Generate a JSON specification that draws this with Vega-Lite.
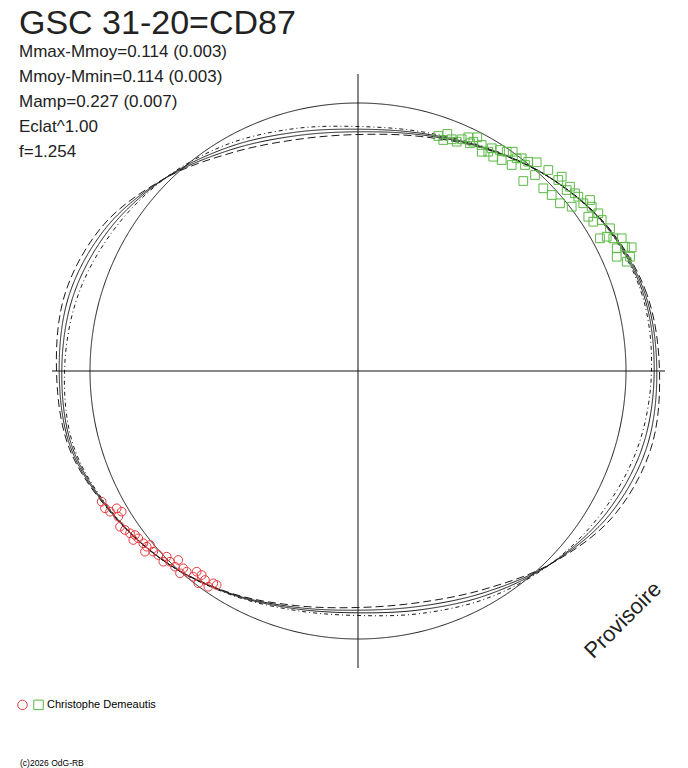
{
  "$schema": "https://vega.github.io/schema/vega-lite/v6.json",
  "description": "Polar phase diagram GSC 31-20=CD87",
  "width": 669,
  "height": 768,
  "autosize": "none",
  "padding": {"left": 19, "top": 0, "right": 0, "bottom": 0},
  "background": "white",
  "title": {
    "text": "GSC 31-20=CD87",
    "subtitle": ["Mmax-Mmoy=0.114 (0.003)", "Mmoy-Mmin=0.114 (0.003)", "Mamp=0.227 (0.007)", "Eclat^1.00", "f=1.254"],
    "anchor": "start",
    "frame": "group",
    "offset": -159.5,
    "font": "Liberation Sans",
    "fontSize": 34,
    "fontWeight": "normal",
    "color": "#222222",
    "subtitleFont": "Liberation Sans",
    "subtitleFontSize": 17,
    "subtitleColor": "#222222",
    "subtitleLineHeight": 25,
    "subtitlePadding": 3
  },
  "datasets": {
    "curves": [
      {"c": "A", "d": 0, "x": 301.5, "y": 0},
      {"c": "A", "d": 15, "x": 288.7, "y": 77.4},
      {"c": "A", "d": 30, "x": 249.8, "y": 144.3},
      {"c": "A", "d": 45, "x": 192.8, "y": 192.8},
      {"c": "A", "d": 60, "x": 128.1, "y": 221.8},
      {"c": "A", "d": 75, "x": 62.8, "y": 234.5},
      {"c": "A", "d": 90, "x": 0, "y": 236.5},
      {"c": "A", "d": 105, "x": -62.0, "y": 231.4},
      {"c": "A", "d": 120, "x": -126.1, "y": 218.3},
      {"c": "A", "d": 135, "x": -192.8, "y": 192.8},
      {"c": "A", "d": 150, "x": -254.0, "y": 146.7},
      {"c": "A", "d": 165, "x": -292.6, "y": 78.4},
      {"c": "A", "d": 180, "x": -301.5, "y": 0},
      {"c": "A", "d": 195, "x": -288.7, "y": -77.4},
      {"c": "A", "d": 210, "x": -246.6, "y": -142.4},
      {"c": "A", "d": 225, "x": -191.6, "y": -191.6},
      {"c": "A", "d": 240, "x": -128.1, "y": -221.8},
      {"c": "A", "d": 255, "x": -62.8, "y": -234.5},
      {"c": "A", "d": 270, "x": 0, "y": -236.5},
      {"c": "A", "d": 285, "x": 62.0, "y": -231.4},
      {"c": "A", "d": 300, "x": 126.1, "y": -218.3},
      {"c": "A", "d": 315, "x": 192.8, "y": -192.8},
      {"c": "A", "d": 330, "x": 254.0, "y": -146.7},
      {"c": "A", "d": 345, "x": 292.6, "y": -78.4},
      {"c": "S1", "d": 0, "x": 298.8, "y": 0},
      {"c": "S1", "d": 15, "x": 287.2, "y": 76.9},
      {"c": "S1", "d": 30, "x": 249.4, "y": 144.0},
      {"c": "S1", "d": 45, "x": 192.8, "y": 192.8},
      {"c": "S1", "d": 60, "x": 128.3, "y": 222.2},
      {"c": "S1", "d": 75, "x": 63.3, "y": 236.1},
      {"c": "S1", "d": 90, "x": 0, "y": 239.2},
      {"c": "S1", "d": 105, "x": -63.0, "y": 235.1},
      {"c": "S1", "d": 120, "x": -127.7, "y": 221.1},
      {"c": "S1", "d": 135, "x": -192.8, "y": 192.8},
      {"c": "S1", "d": 150, "x": -250.7, "y": 144.8},
      {"c": "S1", "d": 165, "x": -288.4, "y": 77.3},
      {"c": "S1", "d": 180, "x": -298.8, "y": 0},
      {"c": "S1", "d": 195, "x": -287.2, "y": -76.9},
      {"c": "S1", "d": 210, "x": -246.2, "y": -142.2},
      {"c": "S1", "d": 225, "x": -191.6, "y": -191.6},
      {"c": "S1", "d": 240, "x": -128.3, "y": -222.2},
      {"c": "S1", "d": 255, "x": -63.3, "y": -236.1},
      {"c": "S1", "d": 270, "x": 0, "y": -239.2},
      {"c": "S1", "d": 285, "x": 63.0, "y": -235.1},
      {"c": "S1", "d": 300, "x": 127.7, "y": -221.1},
      {"c": "S1", "d": 315, "x": 192.8, "y": -192.8},
      {"c": "S1", "d": 330, "x": 250.7, "y": -144.8},
      {"c": "S1", "d": 345, "x": 288.4, "y": -77.3},
      {"c": "S2", "d": 0, "x": 296.2, "y": 0},
      {"c": "S2", "d": 15, "x": 285.6, "y": 76.5},
      {"c": "S2", "d": 30, "x": 248.9, "y": 143.7},
      {"c": "S2", "d": 45, "x": 192.8, "y": 192.8},
      {"c": "S2", "d": 60, "x": 128.6, "y": 222.7},
      {"c": "S2", "d": 75, "x": 63.7, "y": 237.6},
      {"c": "S2", "d": 90, "x": 0, "y": 241.8},
      {"c": "S2", "d": 105, "x": -63.9, "y": 238.6},
      {"c": "S2", "d": 120, "x": -129.3, "y": 223.9},
      {"c": "S2", "d": 135, "x": -192.8, "y": 192.8},
      {"c": "S2", "d": 150, "x": -247.6, "y": 143.0},
      {"c": "S2", "d": 165, "x": -284.4, "y": 76.2},
      {"c": "S2", "d": 180, "x": -296.2, "y": 0},
      {"c": "S2", "d": 195, "x": -285.6, "y": -76.5},
      {"c": "S2", "d": 210, "x": -245.7, "y": -141.9},
      {"c": "S2", "d": 225, "x": -191.6, "y": -191.6},
      {"c": "S2", "d": 240, "x": -128.6, "y": -222.7},
      {"c": "S2", "d": 255, "x": -63.7, "y": -237.6},
      {"c": "S2", "d": 270, "x": 0, "y": -241.8},
      {"c": "S2", "d": 285, "x": 63.9, "y": -238.6},
      {"c": "S2", "d": 300, "x": 129.3, "y": -223.9},
      {"c": "S2", "d": 315, "x": 192.8, "y": -192.8},
      {"c": "S2", "d": 330, "x": 247.6, "y": -143.0},
      {"c": "S2", "d": 345, "x": 284.4, "y": -76.2},
      {"c": "B", "d": 0, "x": 293.5, "y": 0},
      {"c": "B", "d": 15, "x": 284.1, "y": 76.1},
      {"c": "B", "d": 30, "x": 248.5, "y": 143.5},
      {"c": "B", "d": 45, "x": 192.8, "y": 192.8},
      {"c": "B", "d": 60, "x": 128.9, "y": 223.2},
      {"c": "B", "d": 75, "x": 64.1, "y": 239.2},
      {"c": "B", "d": 90, "x": 0, "y": 244.5},
      {"c": "B", "d": 105, "x": -64.9, "y": 242.2},
      {"c": "B", "d": 120, "x": -130.9, "y": 226.6},
      {"c": "B", "d": 135, "x": -192.8, "y": 192.8},
      {"c": "B", "d": 150, "x": -244.3, "y": 141.1},
      {"c": "B", "d": 165, "x": -280.2, "y": 75.1},
      {"c": "B", "d": 180, "x": -293.5, "y": 0},
      {"c": "B", "d": 195, "x": -284.1, "y": -76.1},
      {"c": "B", "d": 210, "x": -245.3, "y": -141.6},
      {"c": "B", "d": 225, "x": -191.6, "y": -191.6},
      {"c": "B", "d": 240, "x": -128.9, "y": -223.2},
      {"c": "B", "d": 255, "x": -64.1, "y": -239.2},
      {"c": "B", "d": 270, "x": 0, "y": -244.5},
      {"c": "B", "d": 285, "x": 64.9, "y": -242.2},
      {"c": "B", "d": 300, "x": 130.9, "y": -226.6},
      {"c": "B", "d": 315, "x": 192.8, "y": -192.8},
      {"c": "B", "d": 330, "x": 244.3, "y": -141.1},
      {"c": "B", "d": 345, "x": 280.2, "y": -75.1},
      {"c": "circle", "d": 0, "x": 268, "y": 0},
      {"c": "circle", "d": 15, "x": 258.9, "y": 69.4},
      {"c": "circle", "d": 30, "x": 232.1, "y": 134},
      {"c": "circle", "d": 45, "x": 189.5, "y": 189.5},
      {"c": "circle", "d": 60, "x": 134, "y": 232.1},
      {"c": "circle", "d": 75, "x": 69.4, "y": 258.9},
      {"c": "circle", "d": 90, "x": 0, "y": 268},
      {"c": "circle", "d": 105, "x": -69.4, "y": 258.9},
      {"c": "circle", "d": 120, "x": -134, "y": 232.1},
      {"c": "circle", "d": 135, "x": -189.5, "y": 189.5},
      {"c": "circle", "d": 150, "x": -232.1, "y": 134},
      {"c": "circle", "d": 165, "x": -258.9, "y": 69.4},
      {"c": "circle", "d": 180, "x": -268, "y": 0},
      {"c": "circle", "d": 195, "x": -258.9, "y": -69.4},
      {"c": "circle", "d": 210, "x": -232.1, "y": -134},
      {"c": "circle", "d": 225, "x": -189.5, "y": -189.5},
      {"c": "circle", "d": 240, "x": -134, "y": -232.1},
      {"c": "circle", "d": 255, "x": -69.4, "y": -258.9},
      {"c": "circle", "d": 270, "x": 0, "y": -268},
      {"c": "circle", "d": 285, "x": 69.4, "y": -258.9},
      {"c": "circle", "d": 300, "x": 134, "y": -232.1},
      {"c": "circle", "d": 315, "x": 189.5, "y": -189.5},
      {"c": "circle", "d": 330, "x": 232.1, "y": -134},
      {"c": "circle", "d": 345, "x": 258.9, "y": -69.4}
    ],
    "obs": [
      {"s": "b", "x": 80.3, "y": 235.0},
      {"s": "b", "x": 85.3, "y": 231.0},
      {"s": "b", "x": 89.3, "y": 237.0},
      {"s": "b", "x": 93.7, "y": 231.7},
      {"s": "b", "x": 98.7, "y": 229.3},
      {"s": "b", "x": 103.7, "y": 231.7},
      {"s": "b", "x": 110.3, "y": 233.7},
      {"s": "b", "x": 115.3, "y": 229.3},
      {"s": "b", "x": 119.3, "y": 233.7},
      {"s": "b", "x": 112.0, "y": 227.7},
      {"s": "b", "x": 123.7, "y": 226.0},
      {"s": "b", "x": 123.7, "y": 219.3},
      {"s": "b", "x": 130.3, "y": 219.3},
      {"s": "b", "x": 133.7, "y": 222.7},
      {"s": "b", "x": 135.3, "y": 214.3},
      {"s": "b", "x": 142.0, "y": 221.0},
      {"s": "b", "x": 143.7, "y": 211.0},
      {"s": "b", "x": 148.7, "y": 219.3},
      {"s": "b", "x": 154.7, "y": 219.3},
      {"s": "b", "x": 153.7, "y": 206.0},
      {"s": "b", "x": 158.7, "y": 212.7},
      {"s": "b", "x": 163.7, "y": 212.7},
      {"s": "b", "x": 167.0, "y": 206.0},
      {"s": "b", "x": 170.3, "y": 209.3},
      {"s": "b", "x": 178.7, "y": 208.7},
      {"s": "b", "x": 177.0, "y": 196.0},
      {"s": "b", "x": 165.3, "y": 190.0},
      {"s": "b", "x": 185.3, "y": 182.7},
      {"s": "b", "x": 190.3, "y": 201.0},
      {"s": "b", "x": 193.7, "y": 176.0},
      {"s": "b", "x": 200.3, "y": 191.0},
      {"s": "b", "x": 203.7, "y": 194.3},
      {"s": "b", "x": 202.0, "y": 167.7},
      {"s": "b", "x": 208.7, "y": 181.0},
      {"s": "b", "x": 212.0, "y": 184.3},
      {"s": "b", "x": 217.0, "y": 177.7},
      {"s": "b", "x": 213.7, "y": 164.3},
      {"s": "b", "x": 220.3, "y": 174.3},
      {"s": "b", "x": 225.3, "y": 167.7},
      {"s": "b", "x": 232.0, "y": 171.0},
      {"s": "b", "x": 230.3, "y": 154.3},
      {"s": "b", "x": 233.7, "y": 164.3},
      {"s": "b", "x": 235.3, "y": 149.3},
      {"s": "b", "x": 240.3, "y": 157.7},
      {"s": "b", "x": 243.7, "y": 151.0},
      {"s": "b", "x": 252.0, "y": 142.7},
      {"s": "b", "x": 242.0, "y": 132.7},
      {"s": "b", "x": 248.7, "y": 134.3},
      {"s": "b", "x": 255.3, "y": 132.7},
      {"s": "b", "x": 263.7, "y": 132.7},
      {"s": "b", "x": 258.7, "y": 122.7},
      {"s": "b", "x": 267.0, "y": 124.3},
      {"s": "b", "x": 273.7, "y": 123.7},
      {"s": "b", "x": 258.7, "y": 114.3},
      {"s": "b", "x": 272.0, "y": 114.3},
      {"s": "b", "x": 268.7, "y": 109.3},
      {"s": "a", "x": -256.3, "y": -130.7},
      {"s": "a", "x": -253.0, "y": -137.3},
      {"s": "a", "x": -241.3, "y": -137.3},
      {"s": "a", "x": -236.3, "y": -140.7},
      {"s": "a", "x": -248.0, "y": -140.7},
      {"s": "a", "x": -239.7, "y": -145.7},
      {"s": "a", "x": -238.0, "y": -155.7},
      {"s": "a", "x": -233.0, "y": -159.0},
      {"s": "a", "x": -228.0, "y": -162.3},
      {"s": "a", "x": -223.0, "y": -164.0},
      {"s": "a", "x": -219.7, "y": -167.3},
      {"s": "a", "x": -224.7, "y": -169.0},
      {"s": "a", "x": -214.7, "y": -172.3},
      {"s": "a", "x": -211.3, "y": -175.7},
      {"s": "a", "x": -208.0, "y": -174.0},
      {"s": "a", "x": -213.0, "y": -180.7},
      {"s": "a", "x": -204.7, "y": -180.7},
      {"s": "a", "x": -199.7, "y": -184.0},
      {"s": "a", "x": -191.3, "y": -185.7},
      {"s": "a", "x": -194.7, "y": -190.7},
      {"s": "a", "x": -188.0, "y": -190.7},
      {"s": "a", "x": -179.7, "y": -189.0},
      {"s": "a", "x": -183.0, "y": -195.7},
      {"s": "a", "x": -174.7, "y": -197.3},
      {"s": "a", "x": -178.0, "y": -202.3},
      {"s": "a", "x": -171.3, "y": -200.7},
      {"s": "a", "x": -161.3, "y": -200.7},
      {"s": "a", "x": -164.7, "y": -205.7},
      {"s": "a", "x": -156.3, "y": -204.0},
      {"s": "a", "x": -159.7, "y": -212.3},
      {"s": "a", "x": -153.0, "y": -209.0},
      {"s": "a", "x": -149.7, "y": -215.7},
      {"s": "a", "x": -144.7, "y": -212.3},
      {"s": "a", "x": -141.3, "y": -214.0}
    ]
  },
  "layer": [
    {
      "data": {"values": [{"axis": "v"}]},
      "mark": {"type": "rule", "color": "#111111", "strokeWidth": 1},
      "encoding": {
        "x": {"datum": 0, "type": "quantitative", "scale": {"domain": [-339, 330], "nice": false, "zero": false}, "axis": null},
        "y": {"datum": 297, "type": "quantitative", "scale": {"domain": [-397, 371], "nice": false, "zero": false}, "axis": null},
        "y2": {"datum": -297}
      }
    },
    {
      "data": {"values": [{"axis": "h"}]},
      "mark": {"type": "rule", "color": "#111111", "strokeWidth": 1},
      "encoding": {
        "x": {"datum": -306, "type": "quantitative", "scale": {"domain": [-339, 330], "nice": false, "zero": false}, "axis": null},
        "x2": {"datum": 307},
        "y": {"datum": 0, "type": "quantitative", "scale": {"domain": [-397, 371], "nice": false, "zero": false}, "axis": null}
      }
    },
    {
      "data": {"name": "curves"},
      "mark": {"type": "line", "interpolate": "cardinal-closed", "color": "#1a1a1a", "strokeWidth": 1},
      "encoding": {
        "x": {"field": "x", "type": "quantitative", "scale": {"domain": [-339, 330], "nice": false, "zero": false}, "axis": null},
        "y": {"field": "y", "type": "quantitative", "scale": {"domain": [-397, 371], "nice": false, "zero": false}, "axis": null},
        "order": {"field": "d", "type": "quantitative"},
        "strokeDash": {
          "field": "c",
          "type": "nominal",
          "scale": {"domain": ["A", "S1", "S2", "B", "circle"], "range": [[8, 4], [1, 0], [1, 0], [4, 3, 1, 3], [1, 0]]},
          "legend": null
        }
      }
    },
    {
      "data": {"name": "obs"},
      "mark": {"type": "point", "filled": false, "opacity": 1, "strokeWidth": 1, "size": 76},
      "encoding": {
        "x": {"field": "x", "type": "quantitative", "scale": {"domain": [-339, 330], "nice": false, "zero": false}, "axis": null},
        "y": {"field": "y", "type": "quantitative", "scale": {"domain": [-397, 371], "nice": false, "zero": false}, "axis": null},
        "color": {
          "field": "s",
          "type": "nominal",
          "scale": {"domain": ["a", "b"], "range": ["#e63b3e", "#5cb845"]},
          "legend": {
            "title": null,
            "orient": "none",
            "legendX": -2,
            "legendY": 699,
            "direction": "horizontal",
            "labelExpr": "datum.value == 'b' ? '\u00a0\u00a0Christophe Demeautis' : ''",
            "labelFont": "Liberation Sans",
            "labelFontSize": 11,
            "labelColor": "#000000",
            "labelOffset": 3,
            "columnPadding": 0,
            "symbolSize": 90,
            "symbolStrokeWidth": 1
          }
        },
        "shape": {
          "field": "s",
          "type": "nominal",
          "scale": {"domain": ["a", "b"], "range": ["circle", "square"]},
          "legend": {
            "title": null,
            "orient": "none",
            "legendX": -2,
            "legendY": 699,
            "direction": "horizontal",
            "labelExpr": "datum.value == 'b' ? '\u00a0\u00a0Christophe Demeautis' : ''",
            "labelFont": "Liberation Sans",
            "labelFontSize": 11,
            "labelColor": "#000000",
            "labelOffset": 3,
            "columnPadding": 0,
            "symbolSize": 90,
            "symbolStrokeWidth": 1
          }
        }
      }
    },
    {
      "data": {"values": [{"note": "Provisoire"}]},
      "mark": {"type": "text", "angle": 315, "font": "Liberation Sans", "fontSize": 22, "color": "#222222", "align": "center", "baseline": "middle"},
      "encoding": {
        "x": {"datum": 265, "type": "quantitative", "scale": {"domain": [-339, 330], "nice": false, "zero": false}, "axis": null},
        "y": {"datum": -249, "type": "quantitative", "scale": {"domain": [-397, 371], "nice": false, "zero": false}, "axis": null},
        "text": {"field": "note"}
      }
    },
    {
      "data": {"values": [{"note": "(c)2026 OdG-RB"}]},
      "mark": {"type": "text", "font": "Liberation Sans", "fontSize": 8.5, "color": "#000000", "align": "left", "baseline": "middle"},
      "encoding": {
        "x": {"datum": -338, "type": "quantitative", "scale": {"domain": [-339, 330], "nice": false, "zero": false}, "axis": null},
        "y": {"datum": -392, "type": "quantitative", "scale": {"domain": [-397, 371], "nice": false, "zero": false}, "axis": null},
        "text": {"field": "note"}
      }
    }
  ],
  "config": {
    "view": {"stroke": null}
  }
}
